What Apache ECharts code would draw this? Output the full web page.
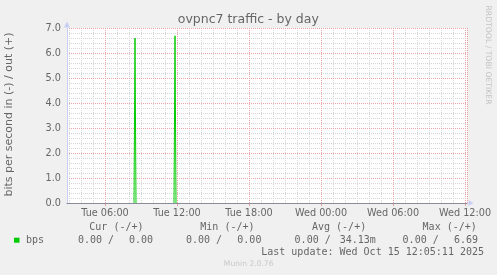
<!DOCTYPE html>
<html>
<head>
<meta charset="utf-8">
<script src="https://cdn.jsdelivr.net/npm/echarts@6/dist/echarts.min.js"></script>
<style>
html,body{margin:0;padding:0;background:#f0f0f0;}
#chart{width:497px;height:275px;}
</style>
</head>
<body>
<div id="chart"></div>
<script>
// ---- data ----
var titleText = 'ovpnc7 traffic - by day';
var yAxisTitle = 'bits per second in (-) / out (+)';
var rangeStart = '2025-10-14 02:50';
var rangeEnd = '2025-10-15 12:10';
// out (+) samples around the two spikes; the flat zero stretches lie on the zero rule (null = no line drawn)
var sampleTimes = ['2025-10-14 08:25', '2025-10-14 08:30', '2025-10-14 08:35', '2025-10-14 10:00',
                   '2025-10-14 11:45', '2025-10-14 11:50', '2025-10-14 11:55'];
var outValues = [0, 6.6, 0, null, 0, 6.69, 0];
var yTicks = [0, 1, 2, 3, 4, 5, 6, 7];
var dayNames = ['Sun', 'Mon', 'Tue', 'Wed', 'Thu', 'Fri', 'Sat'];
var legendName = 'bps';
var statHeaders = ['Cur (-/+)', 'Min (-/+)', 'Avg (-/+)', 'Max (-/+)'];
var statIn = ['0.00 /', '0.00 /', '0.00 /', '0.00 /'];
var statOut = ['0.00', '0.00', '34.13m', '6.69'];
var lastUpdate = 'Last update: Wed Oct 15 12:05:11 2025';
var footer = 'Munin 2.0.76';
var watermark = 'RRDTOOL / TOBI OETIKER';

function ts(s) {
  var p = s.split(' '), d = p[0].split('-').map(Number), h = p[1].split(':').map(Number);
  return Date.UTC(d[0], d[1] - 1, d[2], h[0], h[1]);
}
function pad(n) { return (n < 10 ? '0' : '') + n; }
function fmtTime(v) {
  var d = new Date(v);
  return dayNames[d.getUTCDay()] + ' ' + pad(d.getUTCHours()) + ':' + pad(d.getUTCMinutes());
}

var H = 3600 * 1000;
var xMin = ts(rangeStart), xMax = ts(rangeEnd);
var seriesData = sampleTimes.map(function (t, i) { return [ts(t), outValues[i] === null ? '-' : outValues[i]]; });

var mono = 'DejaVu Sans Mono';
var sans = 'DejaVu Sans';
var fontCol = '#666666';

var graphics = [
  { type: 'text', style: { text: titleText, x: 248.3, y: 20, textAlign: 'center', textVerticalAlign: 'middle', fill: fontCol, font: '12.5px "' + sans + '"' } },
  { type: 'text', x: 9.5, y: 114.5, rotation: Math.PI / 2, style: { text: yAxisTitle, x: 0, y: 0, textAlign: 'center', textVerticalAlign: 'middle', fill: fontCol, font: '11px "' + sans + '"' } },
  { type: 'text', x: 487.5, y: 55, rotation: -Math.PI / 2, style: { text: watermark, x: 0, y: 0, textAlign: 'center', textVerticalAlign: 'middle', fill: '#c4c4c4', font: '7.7px "' + sans + '"' } },
  { type: 'rect', shape: { x: 14, y: 237.7, width: 5.5, height: 5 }, style: { fill: '#00cc00' } },
  { type: 'text', style: { text: legendName, x: 26, y: 240, textAlign: 'left', textVerticalAlign: 'middle', fill: fontCol, font: '10px "' + mono + '"' } },
  { type: 'text', style: { text: lastUpdate, x: 484, y: 252, textAlign: 'right', textVerticalAlign: 'middle', fill: fontCol, font: '10px "' + mono + '"' } },
  { type: 'text', style: { text: footer, x: 248.7, y: 264, textAlign: 'center', textVerticalAlign: 'middle', fill: '#c8c8c8', font: '7.6px "' + sans + '"' } }
];
var headerX = [89.3, 200.3, 312, 422.6];
var inX = [78, 186, 294.6, 402.6];
var outRight = [153, 261.4, 375.8, 478];
for (var i = 0; i < statHeaders.length; i++) {
  graphics.push({ type: 'text', style: { text: statHeaders[i], x: headerX[i], y: 227.5, textAlign: 'left', textVerticalAlign: 'middle', fill: fontCol, font: '10px "' + mono + '"' } });
  graphics.push({ type: 'text', style: { text: statIn[i], x: inX[i], y: 240, textAlign: 'left', textVerticalAlign: 'middle', fill: fontCol, font: '10px "' + mono + '"' } });
  graphics.push({ type: 'text', style: { text: statOut[i], x: outRight[i], y: 240, textAlign: 'right', textVerticalAlign: 'middle', fill: fontCol, font: '10px "' + mono + '"' } });
}

var chart = echarts.init(document.getElementById('chart'), null, { renderer: 'canvas' });
chart.setOption({
  animation: false,
  useUTC: true,
  backgroundColor: '#f0f0f0',
  grid: { left: 67, right: 30, top: 28, bottom: 72, show: true, backgroundColor: '#ffffff', borderWidth: 0, containLabel: false, outerBoundsMode: 'none' },
  xAxis: [
    {
      type: 'time', min: xMin, max: xMax, minInterval: 7 * H, maxInterval: 7 * H, z: 1,
      axisLine: { show: true, lineStyle: { color: '#c8cff2', width: 1 }, symbol: ['none', 'triangle'], symbolSize: [6, 5], symbolOffset: [0, 4] },
      axisTick: { show: true, length: 3, lineStyle: { color: '#e8a0a0' } },
      axisLabel: { formatter: fmtTime, color: fontCol, fontSize: 9.7, fontFamily: sans, margin: 5, showMinLabel: false, showMaxLabel: false, hideOverlap: false },
      splitLine: { show: true, lineStyle: { color: '#eaa4a4', type: 'dotted', width: 1 } }
    },
    {
      type: 'time', min: xMin, max: xMax, minInterval: H, maxInterval: H, z: 0, position: 'bottom',
      axisLine: { show: false }, axisTick: { show: false }, axisLabel: { show: false },
      splitLine: { show: true, lineStyle: { color: '#d6d6d6', type: 'dotted', width: 1 } }
    },
    {
      type: 'time', min: xMin, max: xMax, z: 10, position: 'bottom',
      axisLine: { show: true, lineStyle: { color: '#8c8c9c', width: 1 } },
      axisTick: { show: false }, axisLabel: { show: false }, splitLine: { show: false }
    }
  ],
  yAxis: {
    type: 'value', min: yTicks[0], max: yTicks[yTicks.length - 1], interval: 1, z: 1,
    axisLine: { show: true, lineStyle: { color: '#c8cff2', width: 1 }, symbol: ['none', 'triangle'], symbolSize: [6, 6], symbolOffset: [0, 3.5] },
    axisTick: { show: false },
    axisLabel: { formatter: function (v) { return v.toFixed(1); }, color: fontCol, fontSize: 9.7, fontFamily: sans, margin: 6 },
    splitLine: { show: true, lineStyle: { color: '#eaa4a4', type: 'dotted', width: 1 } },
    minorTick: { show: false, splitNumber: 5 },
    minorSplitLine: { show: true, lineStyle: { color: '#d6d6d6', type: 'dotted', width: 1 } }
  },
  series: [{
    type: 'line', name: legendName, xAxisIndex: 0, yAxisIndex: 0,
    data: seriesData, showSymbol: false, symbol: 'none', connectNulls: false,
    lineStyle: { color: '#00cc00', width: 1 }, itemStyle: { color: '#00cc00' },
    z: 2, silent: true
  }],
  graphic: graphics
});
</script>
</body>
</html>
